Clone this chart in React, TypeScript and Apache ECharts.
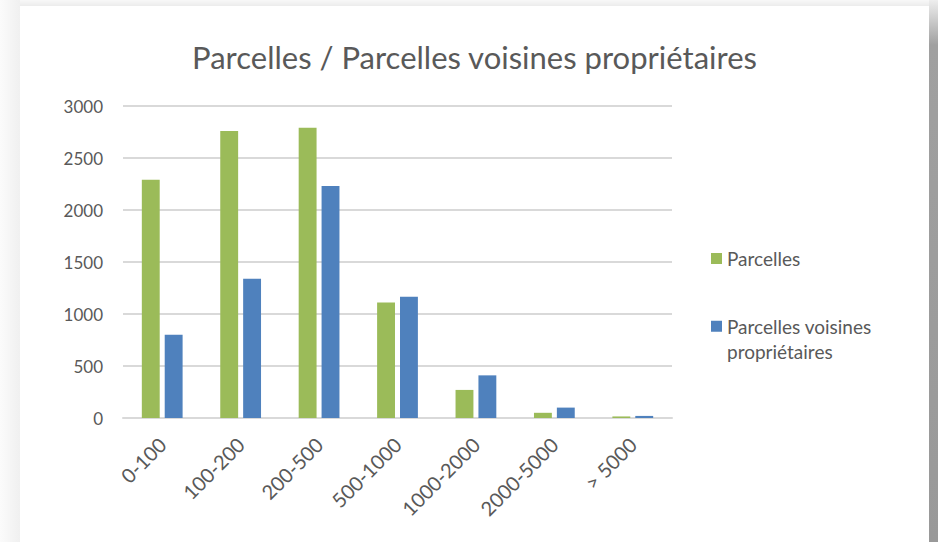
import React, { useEffect, useRef } from "react";
import * as echarts from "echarts";

const categories = ["0-100", "100-200", "200-500", "500-1000", "1000-2000", "2000-5000", "> 5000"];
const parcelles = [2290, 2760, 2790, 1110, 270, 50, 15];
const voisines = [800, 1340, 2230, 1165, 410, 100, 20];
const seriesNames = ["Parcelles", "Parcelles voisines propriétaires"];
const titleText = "Parcelles / Parcelles voisines propriétaires";

const FONT = "Lato, 'Open Sans', sans-serif";
const GRAY = "#595959";

export default function App() {
  const ref = useRef<HTMLDivElement>(null);
  useEffect(() => {
    if (!ref.current) return;
    const chart = echarts.init(ref.current, undefined, { renderer: "svg" });
    chart.setOption({
      animation: false,
      backgroundColor: "#ffffff",
      title: {
        text: titleText,
        left: "center",
        top: 30,
        textStyle: { fontFamily: FONT, fontSize: 31, fontWeight: "normal", color: GRAY },
      },
      grid: { left: 103, right: 257, top: 100, bottom: 124 },
      legend: [
        {
          data: [seriesNames[0]],
          orient: "vertical",
          left: 686,
          top: 235,
          icon: "rect",
          itemWidth: 11,
          itemHeight: 11,
          textStyle: { fontFamily: FONT, fontSize: 19, color: GRAY, lineHeight: 25 },
        },
        {
          data: [seriesNames[1]],
          orient: "vertical",
          left: 686,
          top: 277,
          icon: "rect",
          itemWidth: 11,
          itemHeight: 11,
          formatter: () => "\nParcelles voisines\npropriétaires",
          textStyle: { fontFamily: FONT, fontSize: 19, color: GRAY, lineHeight: 25.5 },
        },
      ],
      xAxis: {
        type: "category",
        data: categories,
        axisLine: { lineStyle: { color: "#d9d9d9", width: 2 } },
        axisTick: { show: false },
        axisLabel: {
          rotate: 45,
          interval: 0,
          margin: 23,
          fontFamily: FONT,
          fontSize: 20,
          color: GRAY,
        },
      },
      yAxis: {
        type: "value",
        min: 0,
        max: 3000,
        interval: 500,
        axisLine: { show: false },
        axisTick: { show: false },
        splitLine: { lineStyle: { color: "#d9d9d9", width: 2 } },
        axisLabel: {
          margin: 20,
          fontFamily: FONT,
          fontSize: 17,
          color: GRAY,
          formatter: (v: number) => String(v),
        },
      },
      series: [
        {
          name: seriesNames[0],
          type: "bar",
          data: parcelles,
          barGap: "28%",
          barCategoryGap: "48%",
          itemStyle: { color: "#9BBB59" },
        },
        {
          name: seriesNames[1],
          type: "bar",
          data: voisines,
          barGap: "28%",
          barCategoryGap: "48%",
          itemStyle: { color: "#4F81BD" },
        },
      ],
    });
    return () => chart.dispose();
  }, []);

  return (
    <div
      style={{
        position: "fixed",
        left: 0,
        top: 0,
        width: 938,
        height: 542,
        background: "linear-gradient(to right, #fbfbfb 0px, #f0f0f0 20px)",
        overflow: "hidden",
      }}
    >
      <div
        style={{
          position: "absolute",
          left: 20,
          top: 0,
          width: 920,
          height: 6,
          background: "linear-gradient(to bottom, #f8f8f8, #ececec)",
        }}
      />
      <div
        style={{
          position: "absolute",
          left: 929,
          top: 0,
          width: 9,
          height: 542,
          background: "linear-gradient(to bottom, #eeeeee 0px, #a0a0a0 45px, #999999 100%)",
        }}
      />
      <div
        ref={ref}
        style={{ position: "absolute", left: 20, top: 6, width: 909, height: 536, background: "#fff" }}
      />
    </div>
  );
}
